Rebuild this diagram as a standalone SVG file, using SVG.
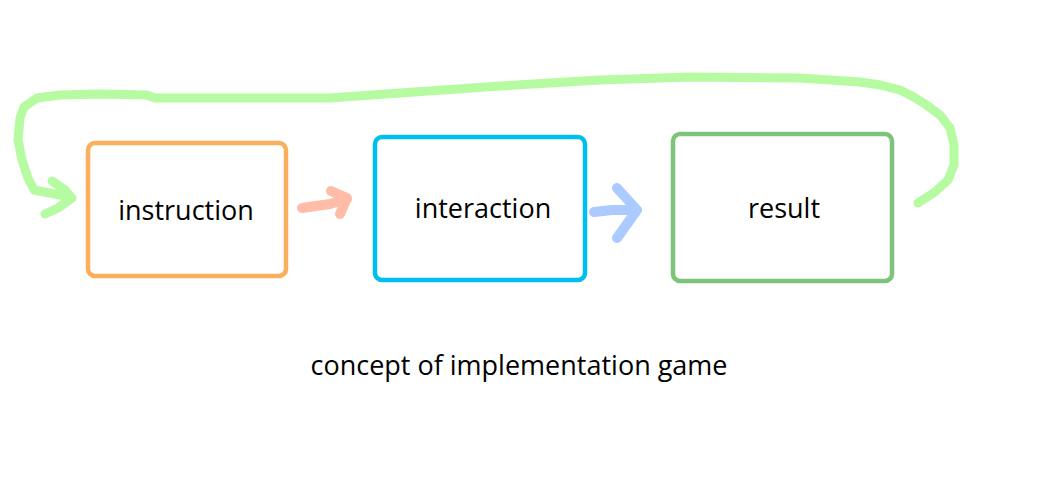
<svg xmlns="http://www.w3.org/2000/svg" width="1040" height="501" viewBox="0 0 1040 501">
<style>
.box{fill:#fff;stroke-width:4.5}
.lbl{font-family:"Open Sans","Noto Sans","DejaVu Sans",sans-serif;font-size:27px;fill:#000;text-anchor:middle}
.pen{fill:none;stroke-linecap:round;stroke-linejoin:round}
</style>
<rect width="1040" height="501" fill="#fff"/>
<g id="connectors">
<path class="pen" stroke="#b6fba2" stroke-width="9" d="M45,214 L58,208 L72,198 L65,190 L52,181 M72,198 L60,195 L34,190 L28,178 L22,160 L18,140 L20,118 L24,107 L37,98 L60,95 L100,94 L147,95 L155,98 L200,98 L330,98 L400,93 L500,86 L600,80 L690,77 L800,78 L860,82 L880,85 L900,90 L912,96 L925,104 L940,115 L950,128 L954,145 L954,165 L948,180 L935,192 L918,203"/>
<g opacity="0.75">
<path class="pen" stroke="#ffa58a" stroke-width="10" d="M302,208 L330,204 L347,199 M331,191 L347,198 L340,214"/>
</g>
<g opacity="0.75">
<path class="pen" stroke="#8fb8ff" stroke-width="10" d="M594,212 L612,210 L637,210 M617,188 L637,210 L617,238"/>
</g>
</g>
<g id="instruction">
<rect class="box" x="88" y="143" width="198" height="133" rx="7" stroke="#fbae5c"/>
<text class="lbl" x="186" y="220">instruction</text>
</g>
<g id="interaction">
<rect class="box" x="375" y="137" width="210" height="143" rx="7" stroke="#00bfef"/>
<text class="lbl" x="483" y="218">interaction</text>
</g>
<g id="result">
<rect class="box" x="673" y="134" width="219" height="147" rx="7" stroke="#7cc47a"/>
<text class="lbl" x="784" y="218">result</text>
</g>
<text class="lbl" x="519" y="375">concept of implementation game</text>
</svg>
